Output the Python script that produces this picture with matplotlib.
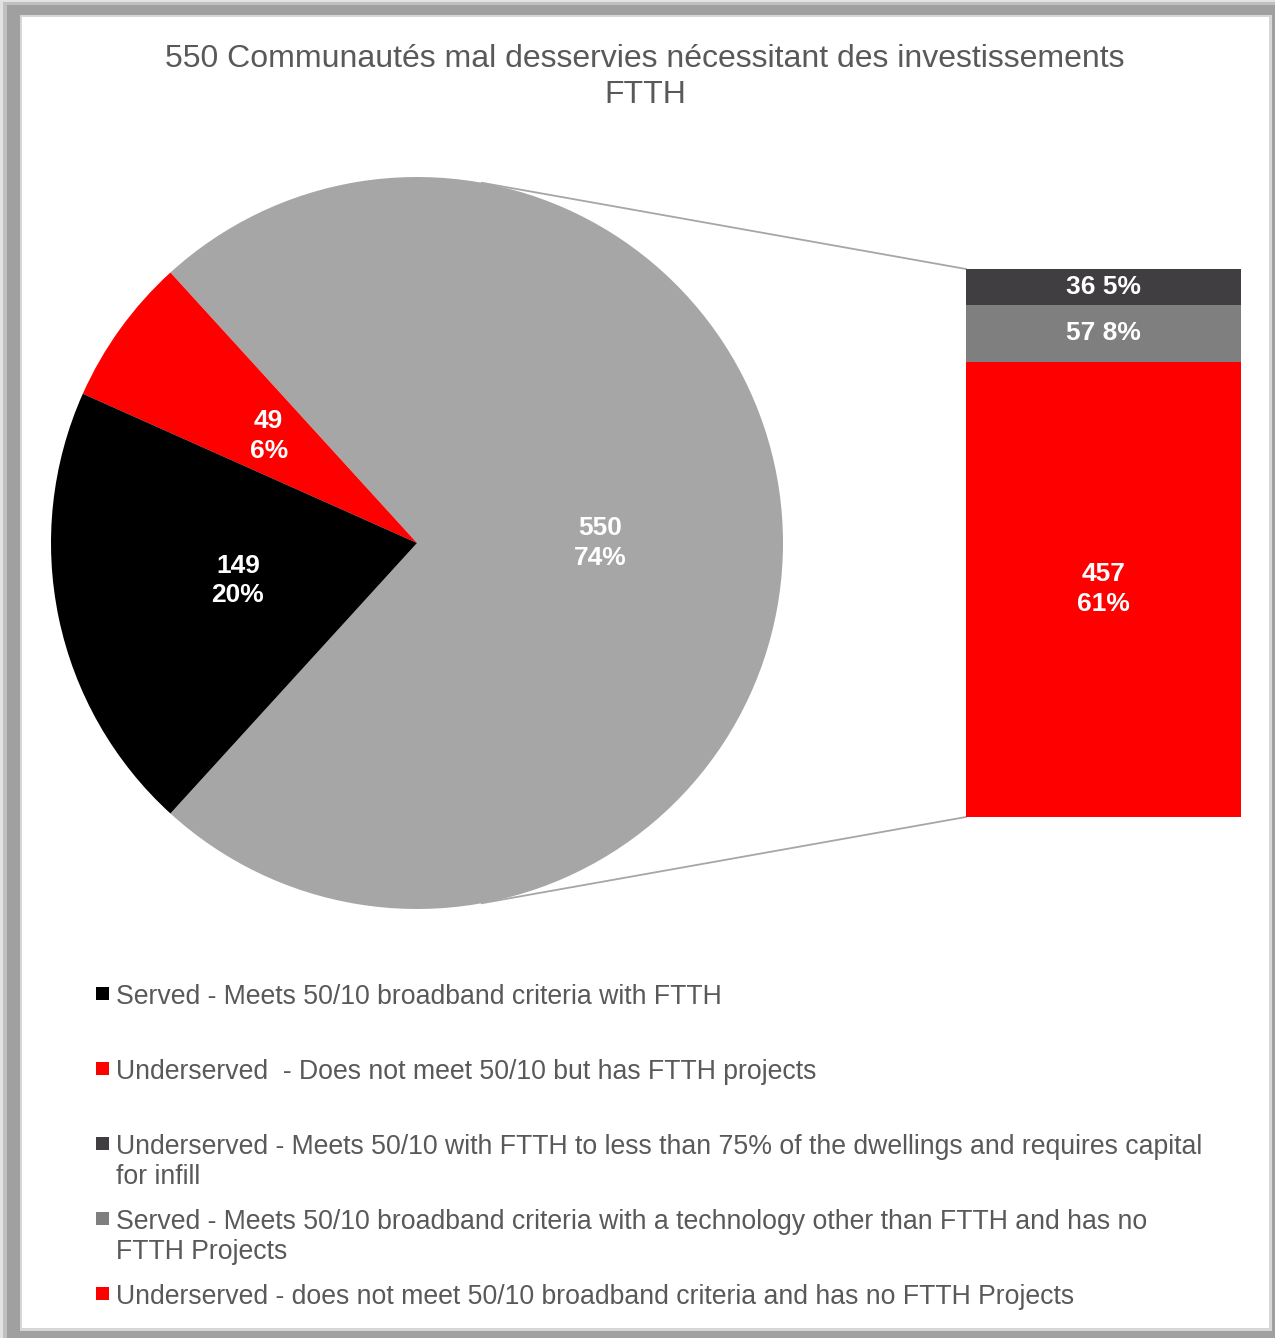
import matplotlib
matplotlib.use("Agg")
import matplotlib.pyplot as plt
from matplotlib.patches import Rectangle
from matplotlib.lines import Line2D
import numpy as np

plt.rcParams['font.family'] = ['Liberation Sans', 'DejaVu Sans']

title = "550 Communautés mal desservies nécessitant des investissements\nFTTH"

pie_values = [550, 49, 149]
pie_colors = ['#a6a6a6', '#ff0000', '#000000']
pie_pcts = ['74%', '6%', '20%']

bar_values = [457, 57, 36]
bar_colors = ['#ff0000', '#7f7f7f', '#403e41']
bar_pcts = ['61%', '8%', '5%']

legend_labels = [
    "Served - Meets 50/10 broadband criteria with FTTH",
    "Underserved  - Does not meet 50/10 but has FTTH projects",
    "Underserved - Meets 50/10 with FTTH to less than 75% of the dwellings and requires capital\nfor infill",
    "Served - Meets 50/10 broadband criteria with a technology other than FTTH and has no\nFTTH Projects",
    "Underserved - does not meet 50/10 broadband criteria and has no FTTH Projects",
]
legend_colors = ['#000000', '#ff0000', '#403e41', '#7f7f7f', '#ff0000']

W, H = 1275, 1338
fig = plt.figure(figsize=(W / 100, H / 100), dpi=100)
fig.patch.set_facecolor('white')

# background overlay axes in pixel coords
bg = fig.add_axes([0, 0, 1, 1])
bg.set_xlim(0, W)
bg.set_ylim(H, 0)
bg.axis('off')
# frame with soft shadow
bg.add_patch(Rectangle((0, 0), W, H, facecolor='#e2e2e2', edgecolor='none'))
bg.add_patch(Rectangle((3, 2), W - 3, H - 2, facecolor='#c0c0c0', edgecolor='none'))
bg.add_patch(Rectangle((7, 5), W - 7, H - 5, facecolor='#a0a0a0', edgecolor='none'))
bg.add_patch(Rectangle((20, 15), 1252, 1316, facecolor='#d6d6d6', edgecolor='none'))
bg.add_patch(Rectangle((22, 17), 1247, 1311, facecolor='white', edgecolor='none'))

# title
fig.text(645 / W, 1 - 77 / H, title, ha='center', va='center', fontsize=23,
         color='#595959', linespacing=1.25)

# pie
cx, cy, r = 417, 543, 366
pax = fig.add_axes([(cx - r) / W, 1 - (cy + r) / H, 2 * r / W, 2 * r / H])
total = sum(pie_values)
gray_span = pie_values[0] / total * 360
start = -gray_span / 2
wedges, _ = pax.pie(pie_values, colors=pie_colors, startangle=start,
                    counterclock=True, radius=1,
                    wedgeprops=dict(linewidth=0))
pax.set_xlim(-1, 1)
pax.set_ylim(-1, 1)
pax.axis('off')

ang = start
for v, p in zip(pie_values, pie_pcts):
    span = v / total * 360
    mid = np.deg2rad(ang + span / 2)
    pax.text(0.5 * np.cos(mid), 0.5 * np.sin(mid), f"{v}\n{p}", ha='center', va='center',
             color='white', fontsize=19, fontweight='bold', linespacing=1.3)
    ang += span

# bar
bx0, bx1, by0, by1 = 966, 1241, 269, 817
bax = fig.add_axes([bx0 / W, 1 - by1 / H, (bx1 - bx0) / W, (by1 - by0) / H])
bottom = 0
for v, c, p in zip(bar_values, bar_colors, bar_pcts):
    bax.bar(0, v, bottom=bottom, width=1, color=c, linewidth=0)
    txt = f"{v}\n{p}" if v > 100 else f"{v} {p}"
    bax.text(0, bottom + v / 2, txt, ha='center', va='center', color='white',
             fontsize=19, fontweight='bold', linespacing=1.3)
    bottom += v
bax.set_xlim(-0.5, 0.5)
bax.set_ylim(0, sum(bar_values))
bax.axis('off')

# connector lines
a = np.deg2rad(79.8)
px, py = cx + r * np.cos(a), cy - r * np.sin(a)
bg.add_line(Line2D([px, bx0], [py, by0], color='#a6a6a6', lw=1.3))
bg.add_line(Line2D([px, bx0], [cy + r * np.sin(a), by1], color='#a6a6a6', lw=1.3))

# legend
ys = [994, 1069, 1144, 1219, 1294]
for lab, c, y in zip(legend_labels, legend_colors, ys):
    bg.add_patch(Rectangle((96, y - 7), 13, 13, facecolor=c, edgecolor='none'))
    bg.text(116, y - 10, lab, ha='left', va='top', fontsize=19.2, color='#595959',
            linespacing=1.22)

fig.savefig('out.png', dpi=100)
